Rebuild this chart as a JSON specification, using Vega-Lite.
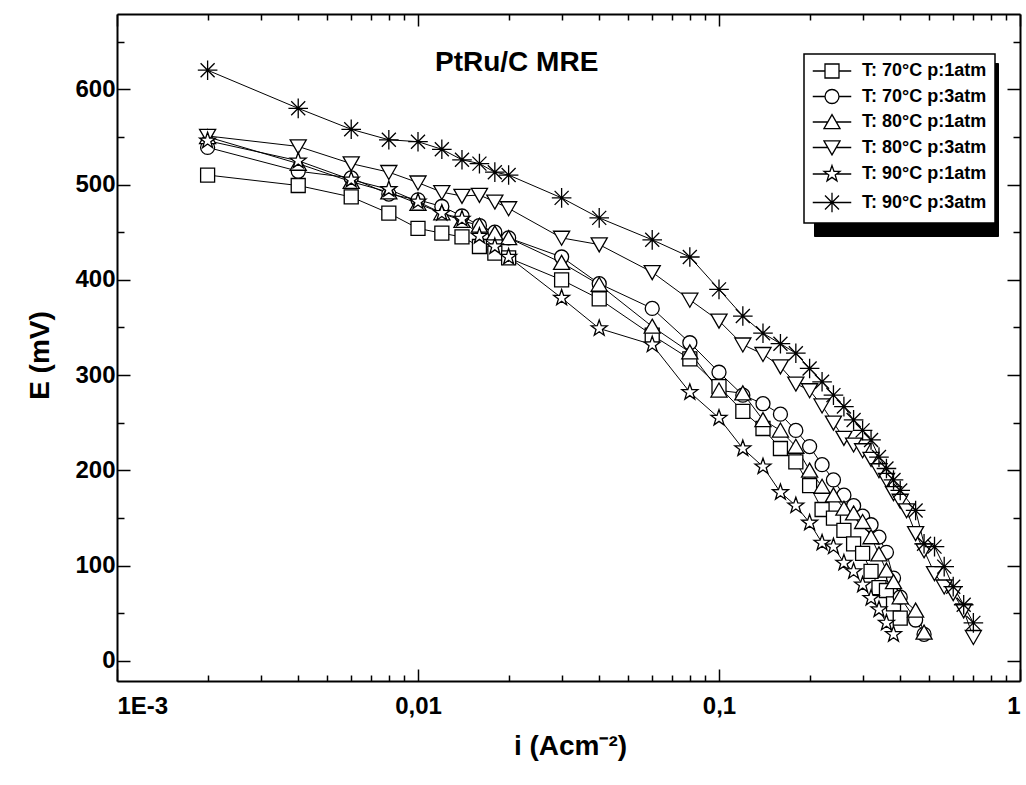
{
  "$schema": "https://vega.github.io/schema/vega-lite/v6.json",
  "autosize": "none",
  "width": 903,
  "height": 667,
  "padding": {"left": 117, "top": 14, "right": 6, "bottom": 104},
  "background": "white",
  "title": {
    "text": "PtRu/C MRE",
    "font": "Liberation Sans",
    "fontSize": 28,
    "fontWeight": "bold",
    "color": "black",
    "anchor": "start",
    "baseline": "alphabetic",
    "offset": 0,
    "dx": 409,
    "dy": 86
  },
  "config": {
    "view": {"stroke": null},
    "axis": {
      "domainColor": "black",
      "domainWidth": 2,
      "tickColor": "black",
      "tickWidth": 1.5,
      "grid": false,
      "labelFont": "Liberation Sans",
      "labelFontSize": 24,
      "labelFontWeight": "bold",
      "labelColor": "black",
      "labelOverlap": false,
      "titleFont": "Liberation Sans",
      "titleFontSize": 28,
      "titleFontWeight": "bold",
      "titleColor": "black"
    }
  },
  "data": {
    "values": [
      {"s": "T: 70°C p:1atm", "i": 0.002, "E": 510},
      {"s": "T: 70°C p:1atm", "i": 0.004, "E": 499},
      {"s": "T: 70°C p:1atm", "i": 0.006, "E": 487},
      {"s": "T: 70°C p:1atm", "i": 0.008, "E": 470},
      {"s": "T: 70°C p:1atm", "i": 0.01, "E": 454},
      {"s": "T: 70°C p:1atm", "i": 0.012, "E": 449},
      {"s": "T: 70°C p:1atm", "i": 0.014, "E": 445},
      {"s": "T: 70°C p:1atm", "i": 0.016, "E": 435},
      {"s": "T: 70°C p:1atm", "i": 0.018, "E": 428},
      {"s": "T: 70°C p:1atm", "i": 0.02, "E": 423},
      {"s": "T: 70°C p:1atm", "i": 0.03, "E": 400},
      {"s": "T: 70°C p:1atm", "i": 0.04, "E": 380},
      {"s": "T: 70°C p:1atm", "i": 0.06, "E": 342},
      {"s": "T: 70°C p:1atm", "i": 0.08, "E": 317},
      {"s": "T: 70°C p:1atm", "i": 0.1, "E": 288},
      {"s": "T: 70°C p:1atm", "i": 0.12, "E": 262},
      {"s": "T: 70°C p:1atm", "i": 0.14, "E": 244},
      {"s": "T: 70°C p:1atm", "i": 0.16, "E": 223},
      {"s": "T: 70°C p:1atm", "i": 0.18, "E": 209},
      {"s": "T: 70°C p:1atm", "i": 0.2, "E": 184},
      {"s": "T: 70°C p:1atm", "i": 0.22, "E": 159},
      {"s": "T: 70°C p:1atm", "i": 0.24, "E": 150},
      {"s": "T: 70°C p:1atm", "i": 0.26, "E": 137},
      {"s": "T: 70°C p:1atm", "i": 0.28, "E": 123},
      {"s": "T: 70°C p:1atm", "i": 0.3, "E": 113},
      {"s": "T: 70°C p:1atm", "i": 0.32, "E": 94},
      {"s": "T: 70°C p:1atm", "i": 0.34, "E": 77},
      {"s": "T: 70°C p:1atm", "i": 0.36, "E": 74},
      {"s": "T: 70°C p:1atm", "i": 0.38, "E": 60},
      {"s": "T: 70°C p:1atm", "i": 0.4, "E": 45},

      {"s": "T: 70°C p:3atm", "i": 0.002, "E": 539},
      {"s": "T: 70°C p:3atm", "i": 0.004, "E": 514},
      {"s": "T: 70°C p:3atm", "i": 0.006, "E": 507},
      {"s": "T: 70°C p:3atm", "i": 0.008, "E": 490},
      {"s": "T: 70°C p:3atm", "i": 0.01, "E": 484},
      {"s": "T: 70°C p:3atm", "i": 0.012, "E": 477},
      {"s": "T: 70°C p:3atm", "i": 0.014, "E": 467},
      {"s": "T: 70°C p:3atm", "i": 0.016, "E": 457},
      {"s": "T: 70°C p:3atm", "i": 0.018, "E": 450},
      {"s": "T: 70°C p:3atm", "i": 0.02, "E": 444},
      {"s": "T: 70°C p:3atm", "i": 0.03, "E": 424},
      {"s": "T: 70°C p:3atm", "i": 0.04, "E": 396},
      {"s": "T: 70°C p:3atm", "i": 0.06, "E": 370},
      {"s": "T: 70°C p:3atm", "i": 0.08, "E": 334},
      {"s": "T: 70°C p:3atm", "i": 0.1, "E": 303},
      {"s": "T: 70°C p:3atm", "i": 0.12, "E": 279},
      {"s": "T: 70°C p:3atm", "i": 0.14, "E": 270},
      {"s": "T: 70°C p:3atm", "i": 0.16, "E": 259},
      {"s": "T: 70°C p:3atm", "i": 0.18, "E": 242},
      {"s": "T: 70°C p:3atm", "i": 0.2, "E": 225},
      {"s": "T: 70°C p:3atm", "i": 0.22, "E": 206},
      {"s": "T: 70°C p:3atm", "i": 0.24, "E": 190},
      {"s": "T: 70°C p:3atm", "i": 0.26, "E": 174},
      {"s": "T: 70°C p:3atm", "i": 0.28, "E": 163},
      {"s": "T: 70°C p:3atm", "i": 0.3, "E": 152},
      {"s": "T: 70°C p:3atm", "i": 0.32, "E": 143},
      {"s": "T: 70°C p:3atm", "i": 0.34, "E": 130},
      {"s": "T: 70°C p:3atm", "i": 0.36, "E": 114},
      {"s": "T: 70°C p:3atm", "i": 0.38, "E": 87},
      {"s": "T: 70°C p:3atm", "i": 0.4, "E": 67},
      {"s": "T: 70°C p:3atm", "i": 0.45, "E": 43},
      {"s": "T: 70°C p:3atm", "i": 0.48, "E": 28},

      {"s": "T: 80°C p:1atm", "i": 0.002, "E": 550},
      {"s": "T: 80°C p:1atm", "i": 0.004, "E": 522},
      {"s": "T: 80°C p:1atm", "i": 0.006, "E": 503},
      {"s": "T: 80°C p:1atm", "i": 0.008, "E": 492},
      {"s": "T: 80°C p:1atm", "i": 0.01, "E": 480},
      {"s": "T: 80°C p:1atm", "i": 0.012, "E": 470},
      {"s": "T: 80°C p:1atm", "i": 0.014, "E": 462},
      {"s": "T: 80°C p:1atm", "i": 0.016, "E": 457},
      {"s": "T: 80°C p:1atm", "i": 0.018, "E": 449},
      {"s": "T: 80°C p:1atm", "i": 0.02, "E": 444},
      {"s": "T: 80°C p:1atm", "i": 0.03, "E": 418},
      {"s": "T: 80°C p:1atm", "i": 0.04, "E": 395},
      {"s": "T: 80°C p:1atm", "i": 0.06, "E": 351},
      {"s": "T: 80°C p:1atm", "i": 0.08, "E": 324},
      {"s": "T: 80°C p:1atm", "i": 0.1, "E": 284},
      {"s": "T: 80°C p:1atm", "i": 0.12, "E": 281},
      {"s": "T: 80°C p:1atm", "i": 0.14, "E": 253},
      {"s": "T: 80°C p:1atm", "i": 0.16, "E": 242},
      {"s": "T: 80°C p:1atm", "i": 0.18, "E": 225},
      {"s": "T: 80°C p:1atm", "i": 0.2, "E": 200},
      {"s": "T: 80°C p:1atm", "i": 0.22, "E": 183},
      {"s": "T: 80°C p:1atm", "i": 0.24, "E": 174},
      {"s": "T: 80°C p:1atm", "i": 0.26, "E": 160},
      {"s": "T: 80°C p:1atm", "i": 0.28, "E": 155},
      {"s": "T: 80°C p:1atm", "i": 0.3, "E": 146},
      {"s": "T: 80°C p:1atm", "i": 0.32, "E": 130},
      {"s": "T: 80°C p:1atm", "i": 0.34, "E": 112},
      {"s": "T: 80°C p:1atm", "i": 0.36, "E": 95},
      {"s": "T: 80°C p:1atm", "i": 0.38, "E": 83},
      {"s": "T: 80°C p:1atm", "i": 0.4, "E": 67},
      {"s": "T: 80°C p:1atm", "i": 0.45, "E": 53},
      {"s": "T: 80°C p:1atm", "i": 0.48, "E": 30},

      {"s": "T: 80°C p:3atm", "i": 0.002, "E": 551},
      {"s": "T: 80°C p:3atm", "i": 0.004, "E": 540},
      {"s": "T: 80°C p:3atm", "i": 0.006, "E": 522},
      {"s": "T: 80°C p:3atm", "i": 0.008, "E": 513},
      {"s": "T: 80°C p:3atm", "i": 0.01, "E": 502},
      {"s": "T: 80°C p:3atm", "i": 0.012, "E": 492},
      {"s": "T: 80°C p:3atm", "i": 0.014, "E": 488},
      {"s": "T: 80°C p:3atm", "i": 0.016, "E": 489},
      {"s": "T: 80°C p:3atm", "i": 0.018, "E": 482},
      {"s": "T: 80°C p:3atm", "i": 0.02, "E": 475},
      {"s": "T: 80°C p:3atm", "i": 0.03, "E": 444},
      {"s": "T: 80°C p:3atm", "i": 0.04, "E": 437},
      {"s": "T: 80°C p:3atm", "i": 0.06, "E": 408},
      {"s": "T: 80°C p:3atm", "i": 0.08, "E": 379},
      {"s": "T: 80°C p:3atm", "i": 0.1, "E": 357},
      {"s": "T: 80°C p:3atm", "i": 0.12, "E": 332},
      {"s": "T: 80°C p:3atm", "i": 0.14, "E": 322},
      {"s": "T: 80°C p:3atm", "i": 0.16, "E": 309},
      {"s": "T: 80°C p:3atm", "i": 0.18, "E": 291},
      {"s": "T: 80°C p:3atm", "i": 0.2, "E": 284},
      {"s": "T: 80°C p:3atm", "i": 0.22, "E": 268},
      {"s": "T: 80°C p:3atm", "i": 0.24, "E": 250},
      {"s": "T: 80°C p:3atm", "i": 0.26, "E": 234},
      {"s": "T: 80°C p:3atm", "i": 0.28, "E": 227},
      {"s": "T: 80°C p:3atm", "i": 0.3, "E": 221},
      {"s": "T: 80°C p:3atm", "i": 0.32, "E": 212},
      {"s": "T: 80°C p:3atm", "i": 0.34, "E": 200},
      {"s": "T: 80°C p:3atm", "i": 0.36, "E": 190},
      {"s": "T: 80°C p:3atm", "i": 0.38, "E": 176},
      {"s": "T: 80°C p:3atm", "i": 0.4, "E": 168},
      {"s": "T: 80°C p:3atm", "i": 0.42, "E": 158},
      {"s": "T: 80°C p:3atm", "i": 0.45, "E": 134},
      {"s": "T: 80°C p:3atm", "i": 0.48, "E": 116},
      {"s": "T: 80°C p:3atm", "i": 0.52, "E": 92},
      {"s": "T: 80°C p:3atm", "i": 0.56, "E": 78},
      {"s": "T: 80°C p:3atm", "i": 0.6, "E": 71},
      {"s": "T: 80°C p:3atm", "i": 0.65, "E": 53},
      {"s": "T: 80°C p:3atm", "i": 0.7, "E": 25},

      {"s": "T: 90°C p:1atm", "i": 0.002, "E": 546},
      {"s": "T: 90°C p:1atm", "i": 0.004, "E": 525},
      {"s": "T: 90°C p:1atm", "i": 0.006, "E": 505},
      {"s": "T: 90°C p:1atm", "i": 0.008, "E": 495},
      {"s": "T: 90°C p:1atm", "i": 0.01, "E": 482},
      {"s": "T: 90°C p:1atm", "i": 0.012, "E": 470},
      {"s": "T: 90°C p:1atm", "i": 0.014, "E": 464},
      {"s": "T: 90°C p:1atm", "i": 0.016, "E": 446},
      {"s": "T: 90°C p:1atm", "i": 0.018, "E": 435},
      {"s": "T: 90°C p:1atm", "i": 0.02, "E": 424},
      {"s": "T: 90°C p:1atm", "i": 0.03, "E": 381},
      {"s": "T: 90°C p:1atm", "i": 0.04, "E": 349},
      {"s": "T: 90°C p:1atm", "i": 0.06, "E": 332},
      {"s": "T: 90°C p:1atm", "i": 0.08, "E": 282},
      {"s": "T: 90°C p:1atm", "i": 0.1, "E": 255},
      {"s": "T: 90°C p:1atm", "i": 0.12, "E": 223},
      {"s": "T: 90°C p:1atm", "i": 0.14, "E": 204},
      {"s": "T: 90°C p:1atm", "i": 0.16, "E": 177},
      {"s": "T: 90°C p:1atm", "i": 0.18, "E": 163},
      {"s": "T: 90°C p:1atm", "i": 0.2, "E": 145},
      {"s": "T: 90°C p:1atm", "i": 0.22, "E": 124},
      {"s": "T: 90°C p:1atm", "i": 0.24, "E": 120},
      {"s": "T: 90°C p:1atm", "i": 0.26, "E": 103},
      {"s": "T: 90°C p:1atm", "i": 0.28, "E": 94},
      {"s": "T: 90°C p:1atm", "i": 0.3, "E": 80},
      {"s": "T: 90°C p:1atm", "i": 0.32, "E": 66},
      {"s": "T: 90°C p:1atm", "i": 0.34, "E": 54},
      {"s": "T: 90°C p:1atm", "i": 0.36, "E": 40},
      {"s": "T: 90°C p:1atm", "i": 0.38, "E": 28},

      {"s": "T: 90°C p:3atm", "i": 0.002, "E": 620},
      {"s": "T: 90°C p:3atm", "i": 0.004, "E": 580},
      {"s": "T: 90°C p:3atm", "i": 0.006, "E": 558},
      {"s": "T: 90°C p:3atm", "i": 0.008, "E": 547},
      {"s": "T: 90°C p:3atm", "i": 0.01, "E": 545},
      {"s": "T: 90°C p:3atm", "i": 0.012, "E": 537},
      {"s": "T: 90°C p:3atm", "i": 0.014, "E": 526},
      {"s": "T: 90°C p:3atm", "i": 0.016, "E": 522},
      {"s": "T: 90°C p:3atm", "i": 0.018, "E": 513},
      {"s": "T: 90°C p:3atm", "i": 0.02, "E": 510},
      {"s": "T: 90°C p:3atm", "i": 0.03, "E": 486},
      {"s": "T: 90°C p:3atm", "i": 0.04, "E": 465},
      {"s": "T: 90°C p:3atm", "i": 0.06, "E": 442},
      {"s": "T: 90°C p:3atm", "i": 0.08, "E": 424},
      {"s": "T: 90°C p:3atm", "i": 0.1, "E": 390},
      {"s": "T: 90°C p:3atm", "i": 0.12, "E": 362},
      {"s": "T: 90°C p:3atm", "i": 0.14, "E": 344},
      {"s": "T: 90°C p:3atm", "i": 0.16, "E": 333},
      {"s": "T: 90°C p:3atm", "i": 0.18, "E": 323},
      {"s": "T: 90°C p:3atm", "i": 0.2, "E": 307},
      {"s": "T: 90°C p:3atm", "i": 0.22, "E": 293},
      {"s": "T: 90°C p:3atm", "i": 0.24, "E": 279},
      {"s": "T: 90°C p:3atm", "i": 0.26, "E": 267},
      {"s": "T: 90°C p:3atm", "i": 0.28, "E": 253},
      {"s": "T: 90°C p:3atm", "i": 0.3, "E": 242},
      {"s": "T: 90°C p:3atm", "i": 0.32, "E": 232},
      {"s": "T: 90°C p:3atm", "i": 0.34, "E": 214},
      {"s": "T: 90°C p:3atm", "i": 0.36, "E": 202},
      {"s": "T: 90°C p:3atm", "i": 0.38, "E": 190},
      {"s": "T: 90°C p:3atm", "i": 0.4, "E": 179},
      {"s": "T: 90°C p:3atm", "i": 0.45, "E": 158},
      {"s": "T: 90°C p:3atm", "i": 0.48, "E": 123},
      {"s": "T: 90°C p:3atm", "i": 0.52, "E": 120},
      {"s": "T: 90°C p:3atm", "i": 0.56, "E": 99},
      {"s": "T: 90°C p:3atm", "i": 0.6, "E": 78},
      {"s": "T: 90°C p:3atm", "i": 0.65, "E": 59},
      {"s": "T: 90°C p:3atm", "i": 0.7, "E": 40}
    ]
  },
  "resolve": {"axis": {"x": "independent", "y": "independent"}},
  "layer": [
    {
      "mark": {"type": "line", "strokeWidth": 1, "clip": true},
      "encoding": {
        "x": {
          "field": "i",
          "type": "quantitative",
          "scale": {"type": "log", "domain": [0.001, 1], "nice": false},
          "axis": {
            "orient": "bottom",
            "values": [0.001, 0.002, 0.003, 0.004, 0.005, 0.006, 0.007, 0.008, 0.009, 0.01, 0.02, 0.03, 0.04, 0.05, 0.06, 0.07, 0.08, 0.09, 0.1, 0.2, 0.3, 0.4, 0.5, 0.6, 0.7, 0.8, 0.9, 1],
            "labelExpr": "datum.value < 0.0015 ? '1E-3' : (datum.value > 0.0095 && datum.value < 0.0105) ? '0,01' : (datum.value > 0.095 && datum.value < 0.105) ? '0,1' : datum.value > 0.95 ? '1' : ''",
            "tickSize": {"condition": {"test": "abs(log(datum.value) / LN10 - round(log(datum.value) / LN10)) < 0.001", "value": -12}, "value": -6},
            "labelPadding": 25,
            "title": "i (Acm⁻²)",
            "titleX": 453,
            "titleY": 73,
            "titleBaseline": "alphabetic",
            "titleAnchor": "middle"
          }
        },
        "y": {
          "field": "E",
          "type": "quantitative",
          "scale": {"domain": [-21, 679], "nice": false, "zero": false},
          "axis": {
            "orient": "left",
            "values": [0, 50, 100, 150, 200, 250, 300, 350, 400, 450, 500, 550, 600, 650],
            "labelExpr": "datum.value % 100 == 0 ? datum.label : ''",
            "tickSize": {"condition": {"test": "datum.value % 100 == 0", "value": -13}, "value": -7},
            "labelPadding": 15,
            "title": "E (mV)",
            "titleAngle": 270,
            "titleX": -77,
            "titleY": 341,
            "titleBaseline": "middle",
            "titleAnchor": "middle"
          }
        },
        "color": {
          "field": "s",
          "type": "nominal",
          "scale": {"range": ["black", "black", "black", "black", "black", "black"]},
          "legend": {
            "orient": "none",
            "legendX": 687,
            "legendY": 40,
            "zindex": 2,
            "title": null,
            "padding": 8,
            "fillColor": "white",
            "strokeColor": "black",
            "labelColor": "black",
            "labelFont": "Liberation Sans",
            "labelFontSize": 18,
            "labelFontWeight": "bold",
            "symbolType": "square",
            "symbolSize": 196,
            "symbolFillColor": "white",
            "symbolStrokeColor": "black",
            "symbolStrokeWidth": 1.3,
            "symbolOffset": 11,
            "labelOffset": 21,
            "rowPadding": 5.5,
            "encode": {
              "legend": {"update": {"strokeWidth": {"value": 1.5}}},
              "symbols": {
                "update": {
                  "shape": {
                    "signal": "datum.value == 'T: 70°C p:1atm' ? 'M-2.75,0L-1,0M1,0L2.75,0M-1,-1L1,-1L1,1L-1,1Z' : datum.value == 'T: 70°C p:3atm' ? 'M-2.75,0L-1,0M1,0L2.75,0M1,0A1,1,0,1,1,-1,0A1,1,0,1,1,1,0Z' : datum.value == 'T: 80°C p:1atm' ? 'M-2.75,0L-0.6,0M0.6,0L2.75,0M0,-1.05L1.15,0.95L-1.15,0.95Z' : datum.value == 'T: 80°C p:3atm' ? 'M-2.75,0L-0.6,0M0.6,0L2.75,0M0,1.05L1.15,-0.95L-1.15,-0.95Z' : datum.value == 'T: 90°C p:1atm' ? 'M-2.75,0L-0.65,0M0.65,0L2.75,0M0,-1.2L0.282,-0.388L1.141,-0.371L0.457,0.148L0.705,0.971L0,0.48L-0.705,0.971L-0.457,0.148L-1.141,-0.371L-0.282,-0.388Z' : 'M-2.75,0L2.75,0M0,-1.4L0,1.4M-1,-1L1,1M-1,1L1,-1'"
                  },
                  "fill": {"value": "white"},
                  "stroke": {"value": "black"},
                  "strokeWidth": {"value": 1.3}
                }
              }
            }
          }
        }
      }
    },
    {
      "mark": {"type": "point", "filled": false, "fill": "white", "fillOpacity": 1, "stroke": "black", "strokeWidth": 1.3, "opacity": 1, "size": 196, "clip": true},
      "encoding": {
        "x": {
          "field": "i",
          "type": "quantitative",
          "axis": {
            "orient": "top",
            "values": [0.001, 0.002, 0.003, 0.004, 0.005, 0.006, 0.007, 0.008, 0.009, 0.01, 0.02, 0.03, 0.04, 0.05, 0.06, 0.07, 0.08, 0.09, 0.1, 0.2, 0.3, 0.4, 0.5, 0.6, 0.7, 0.8, 0.9, 1],
            "labels": false,
            "tickSize": {"condition": {"test": "abs(log(datum.value) / LN10 - round(log(datum.value) / LN10)) < 0.001", "value": -12}, "value": -6},
            "title": null
          }
        },
        "y": {
          "field": "E",
          "type": "quantitative",
          "axis": {
            "orient": "right",
            "values": [0, 50, 100, 150, 200, 250, 300, 350, 400, 450, 500, 550, 600, 650],
            "labels": false,
            "tickSize": {"condition": {"test": "datum.value % 100 == 0", "value": -13}, "value": -7},
            "title": null
          }
        },
        "shape": {
          "field": "s",
          "type": "nominal",
          "scale": {
            "domain": ["T: 70°C p:1atm", "T: 70°C p:3atm", "T: 80°C p:1atm", "T: 80°C p:3atm", "T: 90°C p:1atm", "T: 90°C p:3atm"],
            "range": [
              "M-1,-1L1,-1L1,1L-1,1Z",
              "M1,0A1,1,0,1,1,-1,0A1,1,0,1,1,1,0Z",
              "M0,-1.05L1.15,0.95L-1.15,0.95Z",
              "M0,1.05L1.15,-0.95L-1.15,-0.95Z",
              "M0,-1.2L0.282,-0.388L1.141,-0.371L0.457,0.148L0.705,0.971L0,0.48L-0.705,0.971L-0.457,0.148L-1.141,-0.371L-0.282,-0.388Z",
              "M0,-1.4L0,1.4M-1.4,0L1.4,0M-1,-1L1,1M-1,1L1,-1"
            ]
          },
          "legend": {
            "orient": "none",
            "legendX": 697,
            "legendY": 49,
            "zindex": 1,
            "title": null,
            "padding": 8,
            "fillColor": "black",
            "strokeColor": "black",
            "labelColor": "black",
            "labelFont": "Liberation Sans",
            "labelFontSize": 18,
            "labelFontWeight": "bold",
            "labelExpr": "''",
            "symbolSize": 196,
            "symbolFillColor": "black",
            "symbolStrokeColor": "black",
            "labelOffset": 150,
            "rowPadding": 5.5
          }
        }
      }
    }
  ]
}
